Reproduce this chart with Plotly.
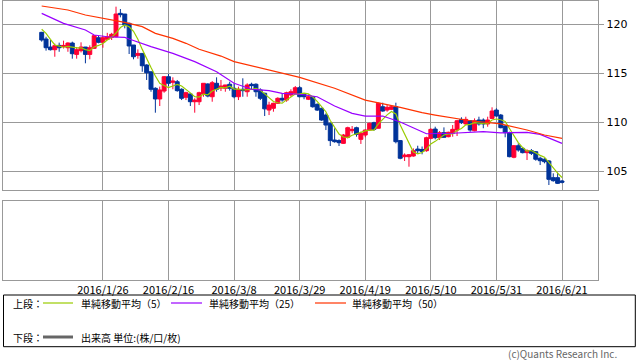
import plotly.graph_objects as go
import pandas as pd

W, H = 638, 362

# trading days (weekdays) shown on the chart
dates = [d.strftime("%Y-%m-%d") for d in pd.bdate_range("2016-01-06", "2016-06-21")]

opens = [119.15, 118.47, 117.65, 117.38, 117.82, 117.69, 117.58, 118.06, 116.9, 117.28,
         117.65, 116.9, 117.52, 118.6, 118.13, 118.44, 118.64, 118.7, 121.09, 121.02,
         120.07, 117.86, 116.8, 117.0, 115.82, 115.13, 113.44, 112.35, 113.16, 114.62,
         114.05, 114.11, 113.34, 112.52, 112.86, 112.07, 112.07, 112.86, 113.88, 112.58,
         113.95, 113.47, 113.44, 113.85, 113.44, 112.58, 113.34, 113.09, 113.85, 113.85,
         113.27, 112.93, 111.22, 111.4, 111.91, 112.42, 112.24, 112.76, 112.93, 113.5,
         112.83, 112.32, 112.58, 111.8, 111.4, 110.71, 109.87, 108.16, 108.1, 107.82,
         108.44, 109.11, 109.42, 108.23, 108.67, 109.18, 109.93, 109.36, 111.56, 111.22,
         111.29, 111.56, 108.1, 106.46, 106.46, 106.53, 107.24, 107.2, 107.07, 108.33,
         109.28, 108.4, 108.91, 108.5, 108.85, 109.18, 110.27, 109.8, 110.13, 109.11,
         110.2, 110.2, 109.8, 110.37, 111.22, 110.71, 109.59, 108.91, 106.4, 107.58,
         107.31, 106.87, 107.07, 106.97, 106.3, 106.2, 106.02, 104.32, 104.32, 103.98]
highs = [119.2, 118.7, 118.37, 118.0, 118.1, 118.3, 118.13, 118.2, 117.65, 118.13,
         117.65, 117.82, 118.88, 118.81, 118.8, 119.1, 119.1, 121.77, 121.53, 121.02,
         120.14, 117.86, 117.41, 117.0, 115.89, 115.13, 113.54, 113.61, 114.69, 114.9,
         114.56, 114.29, 113.44, 113.09, 112.93, 112.42, 113.09, 113.95, 113.95, 114.18,
         114.56, 114.29, 113.78, 114.11, 113.95, 113.61, 114.46, 113.95, 114.01, 113.95,
         113.44, 112.99, 112.07, 111.97, 112.52, 112.93, 113.09, 113.34, 113.67, 113.67,
         112.93, 112.83, 112.65, 111.91, 111.46, 110.88, 109.93, 109.36, 108.23, 108.78,
         109.52, 109.59, 109.52, 109.01, 109.25, 109.93, 110.03, 111.97, 111.97, 111.73,
         111.73, 111.97, 108.16, 106.8, 106.73, 107.31, 107.58, 107.5, 108.5, 109.36,
         109.52, 109.08, 109.45, 109.01, 109.69, 110.2, 110.48, 110.54, 110.2, 110.37,
         110.54, 110.37, 110.54, 111.5, 111.4, 110.82, 109.69, 109.01, 107.65, 107.82,
         107.42, 107.21, 107.24, 107.04, 106.46, 106.3, 106.12, 104.76, 104.83, 104.08]
lows = [118.2, 117.28, 117.3, 116.66, 117.17, 117.5, 117.17, 116.46, 116.46, 117.1,
        115.99, 116.4, 117.45, 118.03, 117.58, 118.37, 118.37, 118.64, 120.68, 119.56,
        116.94, 116.4, 116.46, 115.13, 114.29, 113.09, 110.95, 111.63, 112.99, 113.67,
        113.34, 113.09, 112.24, 112.24, 111.63, 110.95, 111.73, 112.58, 112.52, 112.07,
        113.09, 113.16, 113.09, 113.2, 112.42, 112.24, 112.58, 112.58, 113.34, 112.58,
        112.24, 110.61, 110.71, 111.05, 111.84, 112.07, 112.07, 112.58, 112.86, 112.52,
        112.32, 112.24, 111.46, 111.12, 110.13, 109.18, 107.55, 107.89, 107.55, 107.76,
        108.33, 108.85, 108.5, 107.76, 108.44, 109.11, 109.11, 109.36, 111.05, 111.05,
        111.22, 107.82, 106.2, 106.02, 105.44, 106.46, 106.8, 106.7, 106.97, 108.23,
        108.23, 108.16, 108.4, 108.44, 108.5, 108.57, 109.8, 109.73, 109.01, 109.05,
        109.63, 109.36, 109.52, 110.3, 110.54, 109.36, 108.44, 106.4, 106.3, 106.97,
        106.8, 106.12, 106.63, 106.05, 105.61, 105.78, 103.57, 103.91, 103.67, 103.74]
closes = [118.37, 117.58, 117.38, 117.79, 117.58, 117.82, 118.06, 116.97, 117.38, 117.65,
          116.9, 117.58, 118.81, 118.13, 118.6, 118.7, 118.95, 121.02, 120.95, 119.9,
          117.76, 116.66, 117.0, 115.74, 115.03, 113.34, 112.35, 113.27, 114.62, 113.95,
          114.18, 113.2, 112.42, 112.99, 112.07, 112.24, 112.99, 113.95, 112.65, 114.01,
          113.34, 113.67, 113.78, 113.44, 112.58, 113.34, 113.2, 113.78, 113.71, 113.09,
          112.42, 111.34, 111.73, 111.91, 112.42, 112.24, 112.99, 113.09, 113.5, 112.58,
          112.58, 112.58, 111.56, 111.22, 110.2, 109.69, 108.1, 107.99, 107.89, 108.67,
          109.42, 109.25, 108.74, 108.85, 109.18, 109.87, 109.25, 111.91, 111.12, 111.5,
          111.56, 107.99, 106.3, 106.63, 106.66, 107.07, 107.07, 107.0, 108.4, 109.25,
          108.4, 108.91, 108.44, 108.95, 109.25, 110.13, 109.93, 110.27, 109.18, 110.13,
          109.8, 109.8, 110.2, 111.12, 110.61, 109.42, 108.91, 106.46, 107.58, 107.14,
          106.87, 107.07, 106.8, 106.2, 106.05, 105.95, 104.15, 104.01, 103.74, 103.85]

# MA(5) for the first four days (needs data before the window)
ma5_head = [119.46, 119.05, 118.44, 117.86]

# MA(25) and MA(50) at these days
ma25_days = [0, 5, 10, 12, 15, 19, 20, 25, 30, 35, 40, 44, 48, 52, 55, 59, 63, 67, 71, 74,
             78, 82, 87, 88, 94, 98, 101, 105, 111, 114, 119]
ma25_vals = [121.09, 120.07, 119.39, 118.88, 118.7, 118.64, 118.47, 117.69, 117.0, 116.16,
             115.13, 113.95, 113.34, 113.2, 112.93, 112.83, 112.58, 111.63, 110.88, 110.61,
             110.61, 110.0, 109.01, 108.8, 108.85, 108.95, 109.01, 108.9, 108.95, 108.74, 107.82]
ma50_days = [0, 3, 6, 10, 16, 19, 23, 26, 30, 33, 36, 41, 44, 52, 59, 67, 74, 82, 87, 90,
             98, 105, 111, 115, 119]
ma50_vals = [121.84, 121.65, 121.43, 120.92, 120.41, 120.17, 119.73, 119.05, 118.54, 118.03,
             117.42, 116.73, 116.16, 115.31, 114.56, 113.44, 112.24, 111.5, 110.95, 110.71,
             110.13, 109.8, 109.18, 108.67, 108.33]

tick_dates = ["2016-01-26", "2016-02-16", "2016-03-08", "2016-03-29",
              "2016-04-19", "2016-05-10", "2016-05-31", "2016-06-21"]
tick_labels = ["2016/1/26", "2016/2/16", "2016/3/8", "2016/3/29",
               "2016/4/19", "2016/5/10", "2016/5/31", "2016/6/21"]
price_ticks = [105, 110, 115, 120]

RED = "#ff0033"
BLUE = "#003399"
C5, C25, C50 = "#99cc00", "#9900ff", "#ff3300"
GRID = "#999999"

xs = list(range(len(dates)))
tickpos = [dates.index(d) for d in tick_dates]
ma5 = ma5_head + pd.Series(closes).rolling(5).mean().tolist()[len(ma5_head):]

fig = go.Figure()
fig.add_trace(go.Candlestick(
    x=xs, open=opens, high=highs, low=lows, close=closes,
    increasing=dict(line=dict(color=RED, width=1), fillcolor=RED),
    decreasing=dict(line=dict(color=BLUE, width=1), fillcolor=BLUE),
    whiskerwidth=0, showlegend=False, hoverinfo="skip",
    xaxis="x", yaxis="y"))
fig.add_trace(go.Scatter(x=xs, y=ma5, mode="lines", line=dict(color=C5, width=1.2),
                         showlegend=False, hoverinfo="skip"))
fig.add_trace(go.Scatter(x=ma25_days, y=ma25_vals, mode="lines", line=dict(color=C25, width=1.2),
                         showlegend=False, hoverinfo="skip"))
fig.add_trace(go.Scatter(x=ma50_days, y=ma50_vals, mode="lines", line=dict(color=C50, width=1.2),
                         showlegend=False, hoverinfo="skip"))
# empty lower panel (volume)
fig.add_trace(go.Scatter(x=xs, y=[0] * len(xs), mode="lines", opacity=0,
                         line=dict(width=0), showlegend=False, hoverinfo="skip",
                         xaxis="x2", yaxis="y2"))

xr = [-8.78, 127.3]
dom_x = [3.3 / W, 598.3 / W]
common_x = dict(range=xr, tickvals=tickpos, showgrid=True, gridcolor=GRID, gridwidth=1,
                zeroline=False, showline=True, linecolor=GRID, linewidth=1, mirror=True,
                ticks="", domain=dom_x, fixedrange=True)

fig.update_layout(
    width=W, height=H, margin=dict(l=0, r=0, t=0, b=0),
    paper_bgcolor="white", plot_bgcolor="white",
    boxgap=0.1, boxgroupgap=0,
    xaxis=dict(**common_x, showticklabels=False, anchor="y", rangeslider=dict(visible=False)),
    xaxis2=dict(**common_x, showticklabels=True, ticktext=tick_labels, anchor="y2",
                tickfont=dict(family="Noto Sans CJK JP", size=11, color="#000")),
    yaxis=dict(domain=[1 - 190.3 / H, 1 - 0.5 / H], range=[103.03, 122.40], side="right",
               tickvals=price_ticks, showgrid=True, gridcolor=GRID, zeroline=False,
               showline=True, linecolor=GRID, mirror=True, ticks="outside", ticklen=5,
               tickcolor=GRID, tickfont=dict(family="DejaVu Sans", size=11, color="#000"),
               anchor="x", fixedrange=True),
    yaxis2=dict(domain=[1 - 280 / H, 1 - 201 / H], range=[0, 1], showgrid=False,
                zeroline=False, showticklabels=False, showline=True, linecolor=GRID,
                mirror=True, ticks="", anchor="x2", fixedrange=True),
)

def px(x):
    return x / W

def py(y):
    return 1 - y / H

shapes = [dict(type="rect", xref="paper", yref="paper", x0=px(3.5), x1=px(635.3),
               y0=py(346.7), y1=py(295), line=dict(color="#000", width=1))]
for x0, x1, y, col, wd in [(43, 73, 303, C5, 1.2), (171, 202, 303, C25, 1.2),
                            (315, 346, 303, C50, 1.2), (43, 73, 337, "#666666", 3)]:
    shapes.append(dict(type="line", xref="paper", yref="paper", x0=px(x0), x1=px(x1),
                       y0=py(y), y1=py(y), line=dict(color=col, width=wd)))
fig.update_layout(shapes=shapes)

ann = []
jf = dict(family="Noto Sans CJK JP", size=10, color="#000")
for x, y, t in [(11, 303, "上段："), (79, 303, "単純移動平均（5）"), (207, 303, "単純移動平均（25）"),
                (350, 303, "単純移動平均（50）"), (11, 337, "下段："),
                (79, 337, "出来高 単位:(株/口/枚)")]:
    ann.append(dict(x=px(x), y=py(y), xref="paper", yref="paper", text=t, showarrow=False,
                    xanchor="left", yanchor="middle", font=jf))
ann.append(dict(x=px(618), y=py(362), xref="paper", yref="paper",
                text="(c)Quants Research Inc.", showarrow=False, xanchor="right",
                yanchor="bottom", borderpad=0,
                font=dict(family="Noto Sans CJK JP", size=10, color="#666")))
fig.update_layout(annotations=ann)

fig.write_html("out.html", config={"displayModeBar": False, "staticPlot": True},
               post_script="document.body.style.margin='0px';document.body.style.overflow='hidden';")
